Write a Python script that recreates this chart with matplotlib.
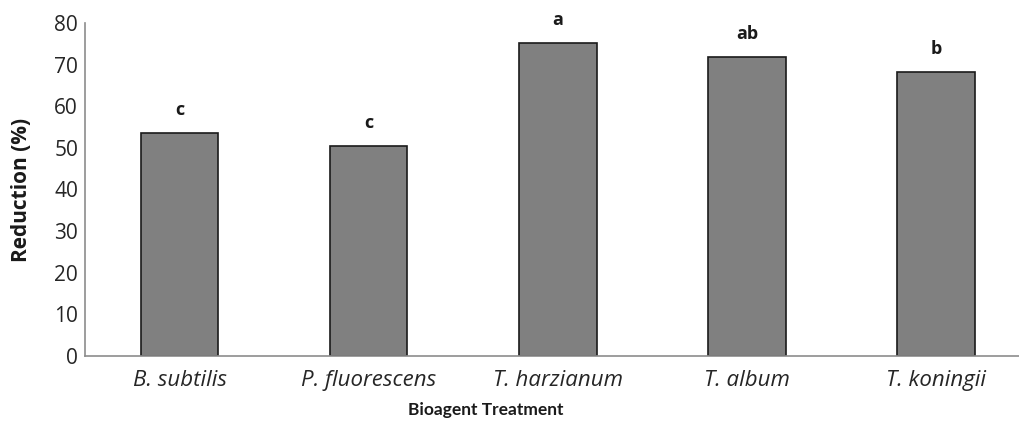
import matplotlib.pyplot as plt

treatments = ["B. subtilis", "P. fluorescens", "T. harzianum", "T. album", "T. koningii"]
reduction = [53.6, 50.5, 75.2, 71.9, 68.3]
letters = ["c", "c", "a", "ab", "b"]

plt.rcParams['font.family'] = ['Open Sans', 'DejaVu Sans']

fig = plt.figure(figsize=(10.19, 4.25), dpi=100)
ax = fig.add_axes([0.0834, 0.1624, 0.928, 0.7835])

x = range(len(treatments))
ax.bar(x, reduction, width=0.41, color='#808080', edgecolor='#1a1a1a', linewidth=1.2, zorder=2)
for xi, v, lab in zip(x, reduction, letters):
    ax.text(xi, v + 3.4, lab, ha='center', va='bottom', fontsize=13, fontweight='bold', color='#1a1a1a')

ax.set_xlim(-0.5, 4.5)
ax.set_ylim(0, 80)
ax.set_yticks(range(0, 81, 10))
ax.set_xticks(list(x))
ax.set_xticklabels(treatments, fontstyle='italic', fontsize=16, color='#262626')
ax.tick_params(axis='y', labelsize=15, labelcolor='#262626', length=0, pad=5)
ax.tick_params(axis='x', length=0, pad=10)

for s in ['top', 'right']:
    ax.spines[s].set_visible(False)
for s in ['left', 'bottom']:
    ax.spines[s].set_color('#8c8c8c')
    ax.spines[s].set_linewidth(1.2)

ax.set_ylabel('Reduction (%)', fontsize=15, fontweight='bold', color='#1a1a1a', va='center')
ax.yaxis.set_label_coords(-(85 - 21) / (1031 - 85), 0.5)
ax.set_xlabel('Bioagent Treatment', fontsize=12.5, fontweight='bold', color='#1a1a1a',
              va='center', family=['Lato', 'DejaVu Sans'])
ax.xaxis.set_label_coords((486 - 85) / (1031 - 85), -(410 - 356) / 333)

fig.savefig('out.png', dpi=100)
